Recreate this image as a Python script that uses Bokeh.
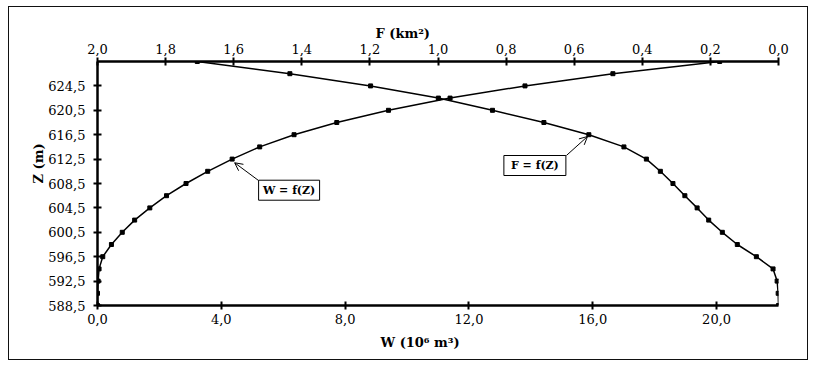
import math
from bokeh.plotting import figure
from bokeh.models import (Range1d, LinearAxis, FixedTicker, CustomJSTickFormatter,
                          Title, Arrow, OpenHead)
from bokeh.embed import file_html
from bokeh.resources import INLINE
from bokeh.core.properties import value

# ---- data ----
Z = [588.5, 590.5, 592.5, 594.5, 596.5, 598.5, 600.5, 602.5, 604.5, 606.5, 608.5,
     610.5, 612.5, 614.5, 616.5, 618.5, 620.5, 622.5, 624.5, 626.5, 628.5]
W = [0.0, 0.0, 0.02, 0.05, 0.17, 0.45, 0.80, 1.20, 1.69, 2.23, 2.86,
     3.56, 4.35, 5.24, 6.35, 7.73, 9.40, 11.39, 13.81, 16.65, 20.10]
F = [0.0, 0.001, 0.004, 0.016, 0.065, 0.121, 0.165, 0.205, 0.239, 0.275, 0.310,
     0.347, 0.388, 0.454, 0.557, 0.689, 0.840, 0.999, 1.198, 1.435, 1.707]

W_TICKS = [0.0, 4.0, 8.0, 12.0, 16.0, 20.0]
F_TICKS = [2.0, 1.8, 1.6, 1.4, 1.2, 1.0, 0.8, 0.6, 0.4, 0.2, 0.0]
Z_TICKS = [588.5, 592.5, 596.5, 600.5, 604.5, 608.5, 612.5, 616.5, 620.5, 624.5]

FONT = "DejaVu Serif"

p = figure(width=800, height=354,
           x_range=Range1d(0, 22), y_range=Range1d(588.5, 628.5),
           x_axis_location=None, y_axis_location=None,
           output_backend="svg", toolbar_location=None,
           min_border_left=88, min_border_right=31,
           min_border_top=54, min_border_bottom=56,
           styles={"margin-left": "8px", "margin-top": "6px",
                   "border": "1.5px solid #111"})
p.extra_x_ranges = {"F": Range1d(2.0, 0.0)}
p.outline_line_color = None
p.xgrid.visible = False
p.ygrid.visible = False

fmt = CustomJSTickFormatter(code="return tick.toFixed(1).replace('.', ',');")

def style_axis(ax, standoff):
    ax.axis_line_width = 2.5
    ax.axis_line_color = "black"
    ax.major_tick_in = 4
    ax.major_tick_out = 4
    ax.major_tick_line_width = 2
    ax.major_tick_line_color = "black"
    ax.minor_tick_line_color = None
    ax.major_label_text_font = FONT
    ax.major_label_text_font_size = "13px"
    ax.major_label_text_color = "black"
    ax.major_label_standoff = standoff

bottom = LinearAxis(ticker=FixedTicker(ticks=W_TICKS), formatter=fmt)
style_axis(bottom, 4)
p.add_layout(bottom, "below")

top = LinearAxis(x_range_name="F", ticker=FixedTicker(ticks=F_TICKS), formatter=fmt)
style_axis(top, 4)
p.add_layout(top, "above")

left = LinearAxis(ticker=FixedTicker(ticks=Z_TICKS), formatter=fmt)
style_axis(left, 8)
p.add_layout(left, "left")

# axis titles
def title(text, offset, standoff):
    return Title(text=text, align="left", offset=offset, standoff=standoff,
                 text_font=FONT, text_font_style="bold", text_font_size="13px",
                 text_color="black")

p.add_layout(title("F (km²)", 278, 0), "above")
p.add_layout(title("W (10⁶ m³)", 283, 12), "below")
p.add_layout(title("Z (m)", 122, 0), "left")

# curves
p.line(W, Z, line_color="black", line_width=1.5)
p.scatter(W, Z, marker="square", size=4, color="black")
p.line(F, Z, x_range_name="F", line_color="black", line_width=1.5)
p.scatter(F, Z, x_range_name="F", marker="square", size=4, color="black")

# callout boxes
p.rect(x=[6.19], y=[607.4], width=61, height=20, width_units="screen", height_units="screen",
       fill_color="white", line_color="black", line_width=1)
p.text(x=[6.19], y=[607.4], text=["W = f(Z)"], text_font=value(FONT), text_font_style="bold",
       text_font_size="11px", text_align="center", text_baseline="middle", text_color="black")
p.rect(x=[14.13], y=[611.45], width=62, height=20, width_units="screen", height_units="screen",
       fill_color="white", line_color="black", line_width=1)
p.text(x=[14.13], y=[611.45], text=["F = f(Z)"], text_font=value(FONT), text_font_style="bold",
       text_font_size="11px", text_align="center", text_baseline="middle", text_color="black")

p.add_layout(Arrow(end=OpenHead(size=8, line_width=1), x_start=5.2, y_start=609.0,
                   x_end=4.43, y_end=611.9, line_width=1, line_color="black"))
p.add_layout(Arrow(end=OpenHead(size=8, line_width=1), x_start=15.15, y_start=613.1,
                   x_end=15.83, y_end=616.2, line_width=1, line_color="black"))

open("out.html", "w").write(file_html(p, INLINE))
